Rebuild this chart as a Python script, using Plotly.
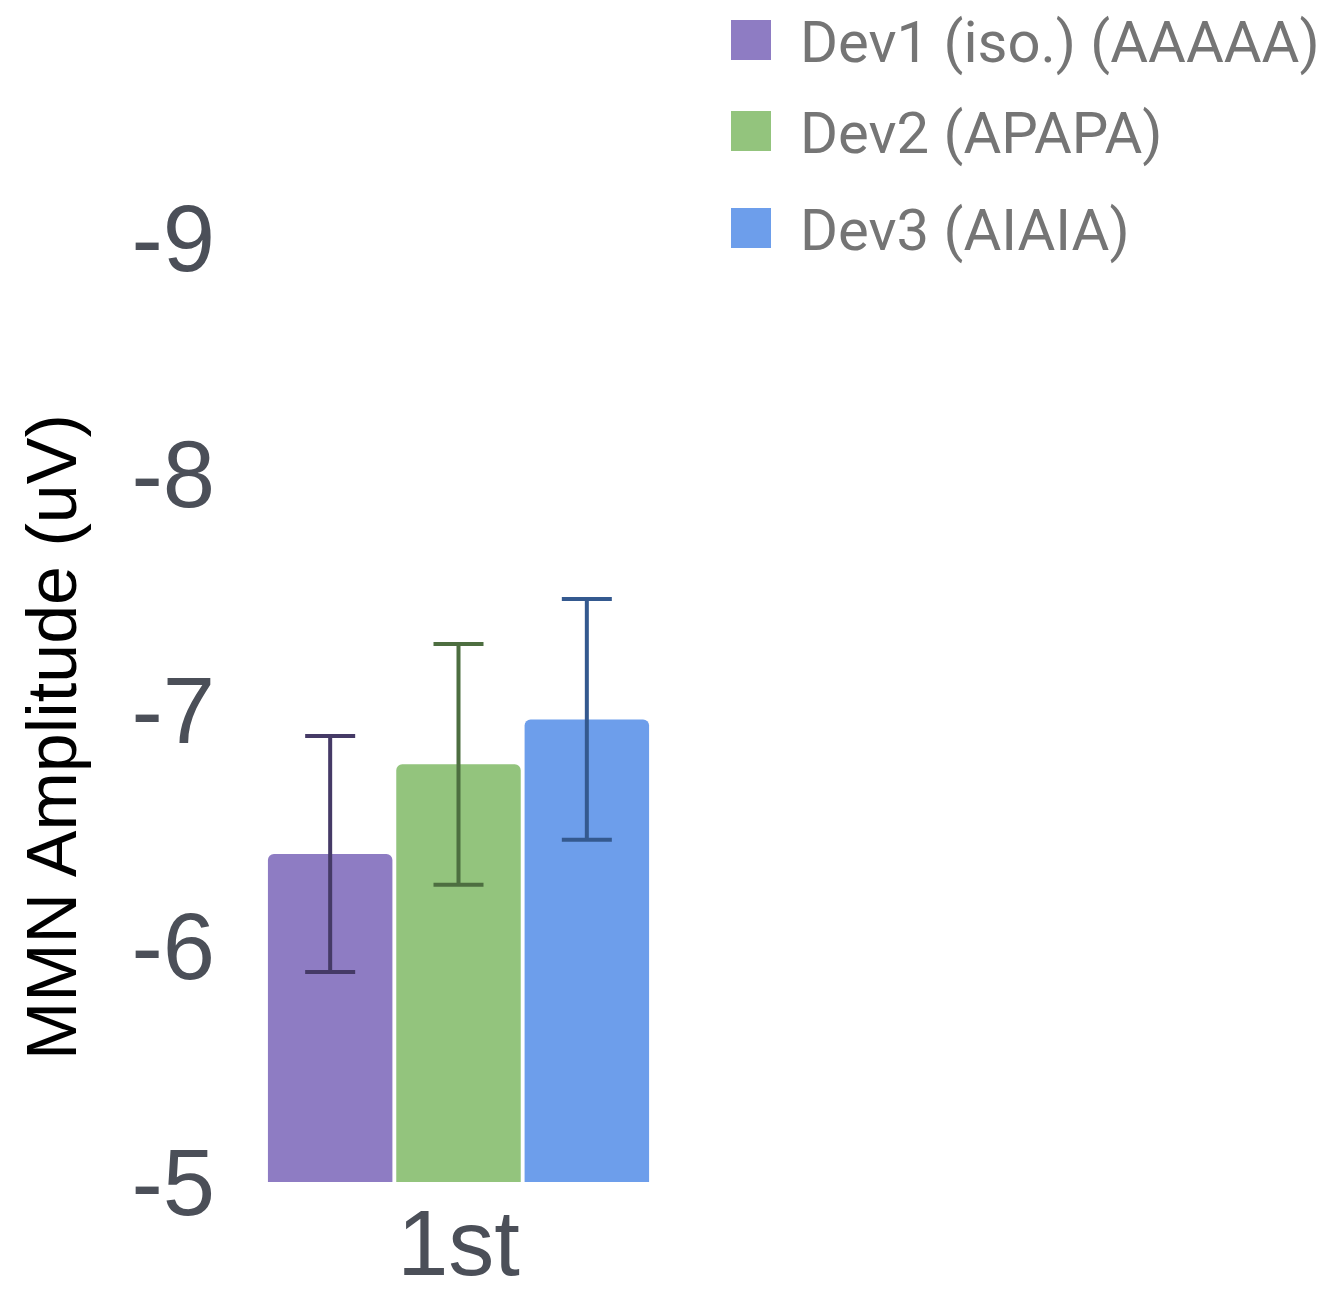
import plotly.graph_objects as go

categories = ["1st"]
series_names = ["Dev1 (iso.) (AAAAA)", "Dev2 (APAPA)", "Dev3 (AIAIA)"]
series_values = [[-6.39], [-6.77], [-6.96]]
series_errors = [[0.50], [0.51], [0.51]]
bar_colors = ["#8e7cc3", "#93c47d", "#6d9eeb"]
err_colors = ["#453a66", "#4d6e40", "#34598f"]
y_ticks = [-5, -6, -7, -8, -9]
y_title = "MMN Amplitude (uV)"

# page body has an 8px default margin, so work in figure coordinates offset by 8
OFF = 8
FW, FH = 1334 - OFF, 1297 - OFF
L, R, T, B = 266 - OFF, 651 - OFF, 238 - OFF, 1182 - OFF
W, H = R - L, B - T

def px_x(p):
    return (p - OFF - L) / W

def px_y(p):
    return (B - (p - OFF)) / H

fig = go.Figure()
for name, vals, errs, c, ec in zip(series_names, series_values, series_errors, bar_colors, err_colors):
    fig.add_trace(go.Bar(
        x=categories, y=vals, name=name,
        marker=dict(color=c, cornerradius=6, line=dict(width=0)),
        error_y=dict(type="data", array=errs, visible=True, color=ec, thickness=4, width=25),
        showlegend=False,
    ))

legend_rows = [40, 131, 228]
shapes = []
annotations = []
for name, c, cy in zip(series_names, bar_colors, legend_rows):
    shapes.append(dict(type="rect", xref="paper", yref="paper",
                       x0=px_x(731), x1=px_x(771), y0=px_y(cy + 20), y1=px_y(cy - 20),
                       fillcolor=c, line=dict(width=0), layer="above"))
    annotations.append(dict(text=name, xref="paper", yref="paper", x=px_x(798), y=px_y(cy + 2),
                            xanchor="left", yanchor="middle", showarrow=False,
                            font=dict(family="Roboto", size=58, color="#757575")))

annotations.append(dict(text=y_title, xref="paper", yref="paper", x=px_x(52), y=px_y(737),
                        xanchor="center", yanchor="middle", textangle=-90, showarrow=False,
                        font=dict(family="Liberation Sans", size=70, color="#000000")))

fig.update_layout(
    width=FW, height=FH,
    margin=dict(l=L, r=FW - R, t=T, b=FH - B, autoexpand=False),
    paper_bgcolor="white", plot_bgcolor="white",
    barmode="group", bargap=0, bargroupgap=0.03,
    shapes=shapes, annotations=annotations,
    showlegend=False,
    xaxis=dict(showgrid=False, showline=False, zeroline=False, ticks="",
               tickfont=dict(family="Liberation Sans", size=92, color="#4b4f58"),
               ticklabelstandoff=0),
    yaxis=dict(range=[-5, -9], tickvals=y_ticks, ticktext=[str(v) for v in y_ticks],
               showgrid=False, showline=False, zeroline=False, ticks="",
               tickfont=dict(family="Liberation Sans", size=94, color="#4b4f58"),
               ticklabelstandoff=50),
)

fig.write_html("out.html")
